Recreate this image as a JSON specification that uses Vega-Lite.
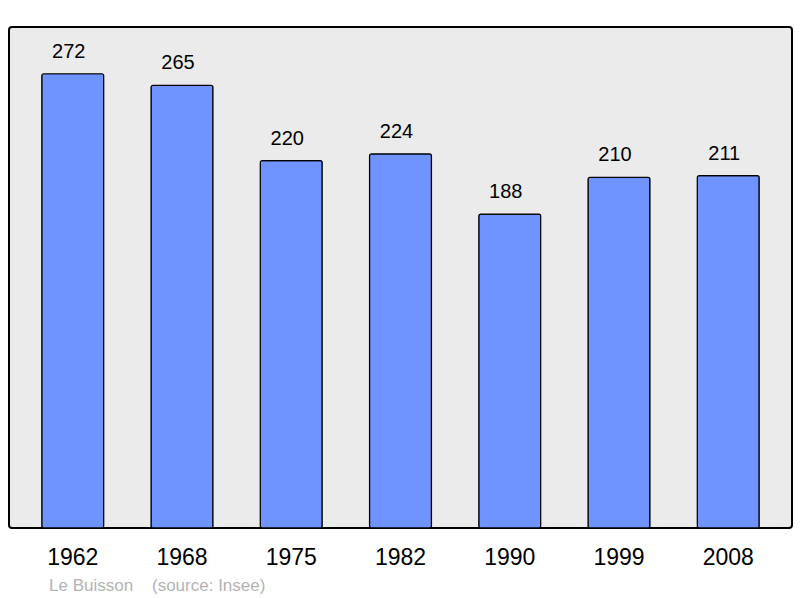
{
  "$schema": "https://vega.github.io/schema/vega-lite/v6.json",
  "autosize": {"type": "none"},
  "width": 783,
  "height": 501,
  "padding": {"left": 9, "top": 27, "right": 8, "bottom": 70},
  "background": "white",
  "data": {"values": [
    {"year": "1962", "pop": 272},
    {"year": "1968", "pop": 265},
    {"year": "1975", "pop": 220},
    {"year": "1982", "pop": 224},
    {"year": "1990", "pop": 188},
    {"year": "1999", "pop": 210},
    {"year": "2008", "pop": 211}
  ]},
  "title": {
    "text": "Le Buisson \u00a0\u00a0\u00a0(source: Insee)",
    "orient": "bottom",
    "anchor": "start",
    "dx": 40,
    "offset": 9,
    "font": "Liberation Sans",
    "fontSize": 17,
    "fontWeight": "normal",
    "color": "#b3b3b3"
  },
  "config": {
    "view": {"fill": "#ebebeb", "stroke": "#000000", "strokeWidth": 2, "cornerRadius": 3},
    "font": "Liberation Sans"
  },
  "encoding": {
    "x": {
      "field": "year", "type": "nominal",
      "scale": {"paddingInner": 0.433, "paddingOuter": 0.3},
      "axis": {"title": null, "domain": false, "ticks": false, "labelAngle": 0, "labelFontSize": 23, "labelColor": "#000000", "labelPadding": 18, "labelFont": "Liberation Sans"}
    },
    "y": {
      "field": "pop", "type": "quantitative",
      "scale": {"domain": [0, 300], "nice": false},
      "axis": null
    }
  },
  "layer": [
    {"mark": {"type": "bar", "fill": "#7094ff", "stroke": "#000000", "strokeWidth": 1.2, "cornerRadius": 2}},
    {"mark": {"type": "text", "baseline": "bottom", "dy": -12, "dx": -4, "fontSize": 20, "color": "#000000"},
     "encoding": {"text": {"field": "pop", "type": "quantitative"}}}
  ]
}
